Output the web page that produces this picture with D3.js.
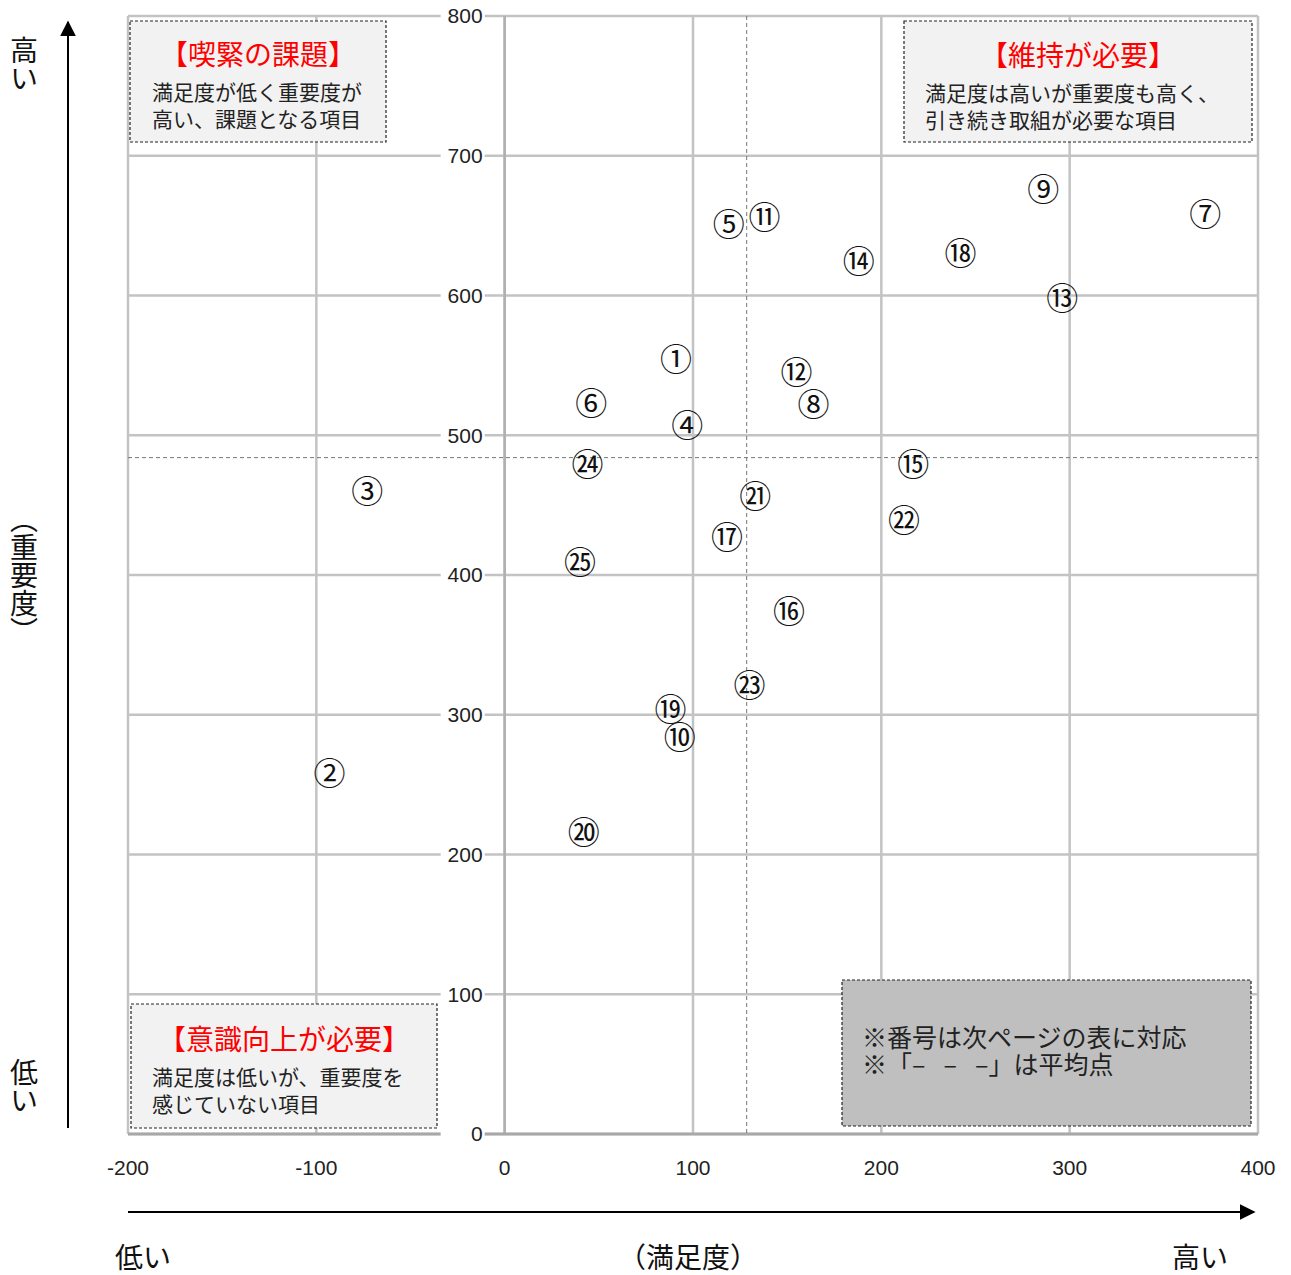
<!DOCTYPE html>
<html>
<head>
<meta charset="utf-8">
<script src="https://cdn.jsdelivr.net/npm/d3@7"></script>
<style>
  body { margin: 0; background: #fff; }
  svg text { font-family: "Noto Sans CJK JP", sans-serif; }
</style>
</head>
<body>
<div id="chart"></div>
<script>
// item labels (circled numbers) and their scores
const labels = ["①","②","③","④","⑤","⑥","⑦","⑧","⑨","⑩","⑪","⑫","⑬","⑭","⑮","⑯","⑰","⑱","⑲","⑳","㉑","㉒","㉓","㉔","㉕"]
const satisfaction = [91, -93, -73, 97, 119, 46, 372, 164, 286, 93, 138, 155, 296, 188, 217, 151, 118, 242, 88, 42, 133, 212, 130, 44, 40]
const importance = [554, 258, 460, 507, 651, 523, 658, 522, 676, 284, 656, 545, 598, 624, 479, 374, 427, 630, 304, 216, 456, 439, 321, 479, 409]
const meanSatisfaction = 128.5
const meanImportance = 484
const xTicks = [-200, -100, 0, 100, 200, 300, 400]
const yTicks = [0, 100, 200, 300, 400, 500, 600, 700, 800]

const W = 1291, H = 1275
const plot = {left: 128, right: 1258, top: 16, bottom: 1134}

const svg = d3.select("#chart").append("svg")
	.attr("width", W).attr("height", H)

const x = d3.scaleLinear().domain([-200, 400]).range([plot.left, plot.right])
const y = d3.scaleLinear().domain([0, 800]).range([plot.bottom, plot.top])

// grid
const grid = svg.append("g").attr("stroke", "#c3c3c3").attr("stroke-width", 2.5)
grid.selectAll(".vg").data(xTicks).join("line")
	.attr("x1", d => x(d)).attr("x2", d => x(d))
	.attr("y1", plot.top).attr("y2", plot.bottom)
grid.selectAll(".hg").data(yTicks).join("line")
	.attr("x1", plot.left).attr("x2", plot.right)
	.attr("y1", d => y(d)).attr("y2", d => y(d))
// zero axes a bit darker
svg.append("line")
	.attr("x1", x(0)).attr("x2", x(0)).attr("y1", plot.top).attr("y2", plot.bottom)
	.attr("stroke", "#b0b0b0").attr("stroke-width", 2.5)
svg.append("line")
	.attr("x1", plot.left).attr("x2", plot.right).attr("y1", y(0)).attr("y2", y(0))
	.attr("stroke", "#a8a8a8").attr("stroke-width", 3)

// mean lines
svg.append("line")
	.attr("x1", x(meanSatisfaction)).attr("x2", x(meanSatisfaction))
	.attr("y1", plot.top).attr("y2", plot.bottom)
	.attr("stroke", "#777").attr("stroke-width", 1).attr("stroke-dasharray", "4,3")
svg.append("line")
	.attr("x1", plot.left).attr("x2", plot.right)
	.attr("y1", y(meanImportance)).attr("y2", y(meanImportance))
	.attr("stroke", "#777").attr("stroke-width", 1).attr("stroke-dasharray", "4,3")

// y tick labels on zero axis, with white background
const yl = svg.append("g")
yl.selectAll("rect").data(yTicks).join("rect")
	.attr("x", x(0) - 64).attr("y", d => y(d) - 11)
	.attr("width", 44).attr("height", 22).attr("fill", "#fff")
yl.selectAll("text").data(yTicks).join("text")
	.attr("x", x(0) - 22).attr("y", d => y(d))
	.attr("dy", "0.35em").attr("text-anchor", "end")
	.style("font-family", "'Liberation Sans Narrow', 'Liberation Sans', sans-serif")
	.style("font-size", "21px").attr("fill", "#222")
	.text(d => d)

// x tick labels
svg.append("g").selectAll("text").data(xTicks).join("text")
	.attr("x", d => x(d)).attr("y", 1168).attr("dy", "0.35em")
	.attr("text-anchor", "middle")
	.style("font-family", "'Liberation Sans Narrow', 'Liberation Sans', sans-serif")
	.style("font-size", "21px").attr("fill", "#222")
	.text(d => d)

// quadrant boxes
function box(x0, y0, w, h, fill, title, lines, tx, ty, ly) {
	svg.append("rect").attr("x", x0).attr("y", y0).attr("width", w).attr("height", h)
		.attr("fill", fill).attr("stroke", "#222").attr("stroke-width", 1.2)
		.attr("stroke-dasharray", "3,2")
	if (title) {
		svg.append("text").attr("x", x0 + w / 2).attr("y", ty)
			.attr("text-anchor", "middle").attr("fill", "#ff0000")
			.style("font-size", "28px").text(title)
	}
	lines.forEach((t, i) => {
		svg.append("text").attr("x", tx).attr("y", ly[i])
			.attr("fill", "#222").style("font-size", title ? "21px" : "25px").text(t)
	})
}
box(130, 21, 256, 121, "#f2f2f2", "【喫緊の課題】",
	["満足度が低く重要度が", "高い、課題となる項目"], 152, 65, [100, 127])
box(904, 21, 348, 121, "#f2f2f2", "【維持が必要】",
	["満足度は高いが重要度も高く、", "引き続き取組が必要な項目"], 925, 66, [101, 128])
box(131, 1004, 306, 124, "#f2f2f2", "【意識向上が必要】",
	["満足度は低いが、重要度を", "感じていない項目"], 152, 1050, [1085, 1112])
box(842, 980, 409, 146, "#bfbfbf", null,
	["※番号は次ページの表に対応", "※「– \u2002– \u2002–」は平均点"], 862, 0, [1047, 1074])

// points as circled numbers
svg.append("g").selectAll("text").data(labels).join("text")
	.attr("x", (d, i) => x(satisfaction[i]))
	.attr("y", (d, i) => y(importance[i]))
	.attr("dy", "0.36em").attr("text-anchor", "middle")
	.style("font-size", "32px").attr("fill", "#111")
	.text(d => d)

// axis arrows
const defs = svg.append("defs")
defs.append("marker").attr("id", "arr").attr("viewBox", "0 0 10 10")
	.attr("refX", 9).attr("refY", 5).attr("markerWidth", 16).attr("markerHeight", 16)
	.attr("markerUnits", "userSpaceOnUse").attr("orient", "auto")
	.append("path").attr("d", "M0,0 L10,5 L0,10 Z").attr("fill", "#000")
svg.append("line").attr("x1", 68).attr("x2", 68).attr("y1", 1128).attr("y2", 22)
	.attr("stroke", "#000").attr("stroke-width", 2).attr("marker-end", "url(#arr)")
svg.append("line").attr("x1", 128).attr("x2", 1254).attr("y1", 1212).attr("y2", 1212)
	.attr("stroke", "#000").attr("stroke-width", 2).attr("marker-end", "url(#arr)")

// axis words, vertical ones set in vertical writing mode
function vtext(t, cx, cy) {
	svg.append("text").attr("x", cx).attr("y", cy)
		.style("writing-mode", "vertical-rl").style("glyph-orientation-vertical", "0")
		.attr("text-anchor", "middle").style("font-size", "28px").attr("fill", "#111")
		.text(t)
}
vtext("高い", 24, 64)
vtext("低い", 24, 1086)
vtext("（重要度）", 24, 575)

svg.append("text").attr("x", 143).attr("y", 1268).attr("text-anchor", "middle")
	.style("font-size", "28px").attr("fill", "#111").text("低い")
svg.append("text").attr("x", 688).attr("y", 1268).attr("text-anchor", "middle")
	.style("font-size", "28px").attr("fill", "#111").text("（満足度）")
svg.append("text").attr("x", 1200).attr("y", 1268).attr("text-anchor", "middle")
	.style("font-size", "28px").attr("fill", "#111").text("高い")
</script>
</body>
</html>
